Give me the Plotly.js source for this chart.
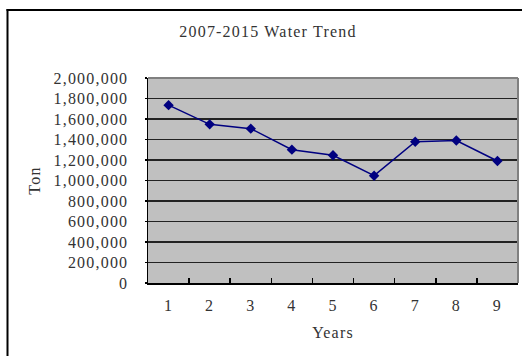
<!DOCTYPE html>
<html>
<head>
<meta charset="utf-8">
<script src="https://cdn.plot.ly/plotly-3.0.1.min.js"></script>
<style>
  html, body { margin: 0; padding: 0; background: #ffffff; }
  #chart { width: 522px; height: 356px; }
  /* wide, evenly spaced lettering for every label */
  #chart svg text { letter-spacing: 1.2px; }
</style>
</head>
<body>
<div id="chart"></div>
<script>
// Yearly water use, 2007-2015, indexed 1..9
const years = ['1', '2', '3', '4', '5', '6', '7', '8', '9'];
const tons = [1735000, 1548000, 1506000, 1301000, 1246000, 1047000, 1378000, 1390000, 1190000];

// Value axis ticks
const yTickVals = [0, 200000, 400000, 600000, 800000, 1000000, 1200000, 1400000, 1600000, 1800000, 2000000];
const yTickText = ['0', '200,000', '400,000', '600,000', '800,000', '1,000,000',
                   '1,200,000', '1,400,000', '1,600,000', '1,800,000', '2,000,000'];

const FONT = 'Liberation Serif, DejaVu Serif, serif';
const TEXT = '#333333';

// plot box in pixels (used to place the outer frame in paper units)
const W = 522, H = 356;
const M = { l: 148, r: 4, t: 78, b: 73 };
const pw = W - M.l - M.r, ph = H - M.t - M.b;
const px = x => (x - M.l) / pw;
const py = y => (H - M.b - y) / ph;

const trace = {
  x: years,
  y: tons,
  type: 'scatter',
  mode: 'lines+markers',
  line: { color: '#000080', width: 1.5 },
  marker: { symbol: 'diamond', size: 8, color: '#000080' },
  hoverinfo: 'x+y'
};

const layout = {
  width: W,
  height: H,
  margin: M,
  paper_bgcolor: '#ffffff',
  plot_bgcolor: '#c0c0c0',
  showlegend: false,
  font: { family: FONT, size: 16, color: TEXT },
  title: {
    text: '2007-2015 Water Trend',
    font: { family: FONT, size: 16, color: TEXT },
    x: px(268), xref: 'paper', xanchor: 'center',
    y: 1 - 31 / H, yref: 'container', yanchor: 'middle'
  },
  xaxis: {
    type: 'category',
    range: [-0.5, 8.5],
    tickson: 'boundaries',
    ticks: 'inside',
    ticklen: 5,
    tickwidth: 1.5,
    tickcolor: '#000000',
    showline: true,
    linecolor: '#000000',
    linewidth: 1.5,
    showgrid: false,
    zeroline: false,
    ticklabelstandoff: 7,
    tickfont: { family: FONT, size: 16, color: TEXT },
    title: { text: 'Years', font: { family: FONT, size: 16, color: TEXT }, standoff: 14 }
  },
  yaxis: {
    range: [0, 2000000],
    tickvals: yTickVals,
    ticktext: yTickText,
    ticks: 'outside',
    ticklen: 2,
    tickwidth: 1.5,
    tickcolor: '#000000',
    showline: true,
    linecolor: '#000000',
    linewidth: 1.5,
    showgrid: true,
    gridcolor: '#222222',
    gridwidth: 1.5,
    zeroline: false,
    ticklabelstandoff: 13,
    tickfont: { family: FONT, size: 16, color: TEXT },
    title: { text: 'Ton', font: { family: FONT, size: 16, color: TEXT }, standoff: 19 }
  },
  shapes: [
    // plot-area frame, top and right
    { type: 'line', xref: 'paper', yref: 'paper', x0: 0, x1: 1, y0: 1, y1: 1,
      line: { color: '#808080', width: 2 } },
    { type: 'line', xref: 'paper', yref: 'paper', x0: 1, x1: 1, y0: 0, y1: 1,
      line: { color: '#808080', width: 2 } },
    // chart frame
    { type: 'line', xref: 'paper', yref: 'paper', x0: px(7.5), x1: px(7.5), y0: py(9), y1: py(H + 2),
      line: { color: '#000000', width: 2 } },
    { type: 'line', xref: 'paper', yref: 'paper', x0: px(6.5), x1: px(W + 2), y0: py(10), y1: py(10),
      line: { color: '#000000', width: 2 } }
  ]
};

Plotly.newPlot('chart', [trace], layout, { displayModeBar: false, staticPlot: true });
</script>
</body>
</html>
